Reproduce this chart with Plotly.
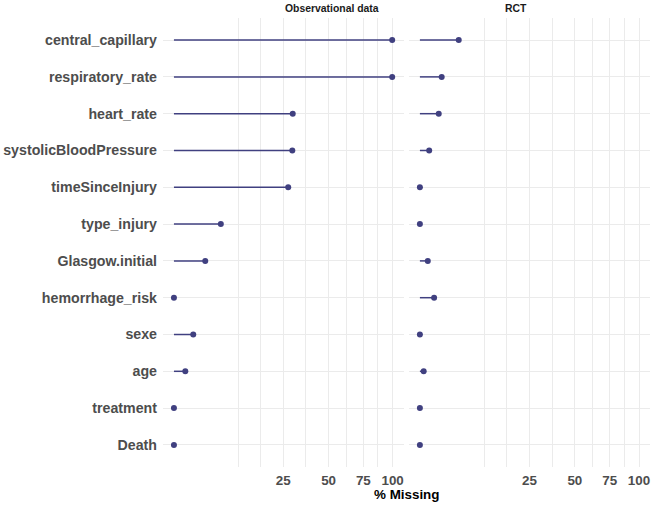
import numpy as np
import plotly.graph_objects as go

variables = ["central_capillary", "respiratory_rate", "heart_rate", "systolicBloodPressure",
             "timeSinceInjury", "type_injury", "Glasgow.initial", "hemorrhage_risk",
             "sexe", "age", "treatment", "Death"]
obs_missing = [99.6, 99.6, 29.5, 29.3, 27.3, 4.6, 2.05, 0.0, 0.78, 0.27, 0.0, 0.0]
rct_missing = [3.14, 0.99, 0.74, 0.18, 0.0, 0.0, 0.13, 0.42, 0.0, 0.03, 0.0, 0.0]
panel_titles = ["Observational data", "RCT"]
grid_values = [8.6, 15.7, 25, 36.4, 50, 61.9, 75, 87, 100]
grid_labels = ["", "", "25", "", "50", "", "75", "", "100"]

COL = "#404080"
FONT = "Liberation Sans, Arial, sans-serif"

fig = go.Figure()
domains = [[0.0, 0.494], [0.505, 1.0]]
for i, vals in enumerate([obs_missing, rct_missing]):
    xs, ys = [], []
    for v, name in zip(vals, variables):
        xs += [0.0, float(np.sqrt(v)), None]
        ys += [name, name, None]
    xa = "x" if i == 0 else "x2"
    ya = "y" if i == 0 else "y2"
    fig.add_trace(go.Scatter(x=xs, y=ys, mode="lines", line=dict(color=COL, width=1.5),
                             xaxis=xa, yaxis=ya, showlegend=False, hoverinfo="skip"))
    fig.add_trace(go.Scatter(x=np.sqrt(vals), y=variables, mode="markers",
                             marker=dict(color=COL, size=6), xaxis=xa, yaxis=ya,
                             showlegend=False))

cat_order = variables[::-1]
xcommon = dict(range=[-0.5, 10.5], tickvals=list(np.sqrt(grid_values)), ticktext=grid_labels,
               showgrid=True, gridcolor="#EBEBEB", gridwidth=1, zeroline=False, showline=False,
               ticks="", tickfont=dict(family=FONT, size=13.4, color="#4D4D4D", weight="bold"),
               ticklabelstandoff=4, automargin=False)
ycommon = dict(type="category", categoryorder="array", categoryarray=cat_order,
               range=[-0.6, 11.6], showgrid=True, gridcolor="#EBEBEB", gridwidth=1,
               zeroline=False, showline=False, ticks="", automargin=False)
fig.update_layout(
    width=651, height=507,
    margin=dict(l=163, r=1, t=18, b=40),
    paper_bgcolor="white", plot_bgcolor="white",
    xaxis=dict(domain=domains[0], **xcommon),
    xaxis2=dict(domain=domains[1], anchor="y2", **xcommon),
    yaxis=dict(domain=[0, 1], anchor="x",
               tickfont=dict(family=FONT, size=14.2, color="#4D4D4D", weight="bold"),
               ticklabelstandoff=5, **ycommon),
    yaxis2=dict(domain=[0, 1], anchor="x2", showticklabels=False, **ycommon),
)
for i, t in enumerate(panel_titles):
    fig.add_annotation(text=t, x=sum(domains[i]) / 2, y=1, xref="paper", yref="paper",
                       yanchor="bottom", yshift=2, showarrow=False,
                       font=dict(family=FONT, size=10.4, color="#1A1A1A", weight="bold"))
fig.add_annotation(text="% Missing", x=0.5, y=0, xref="paper", yref="paper",
                   yanchor="top", yshift=-18, showarrow=False,
                   font=dict(family=FONT, size=13.4, color="black", weight="bold"))

fig.write_html("out.html", config={"displayModeBar": False},
               post_script="document.body.style.margin='0';document.body.style.overflow='hidden';")
